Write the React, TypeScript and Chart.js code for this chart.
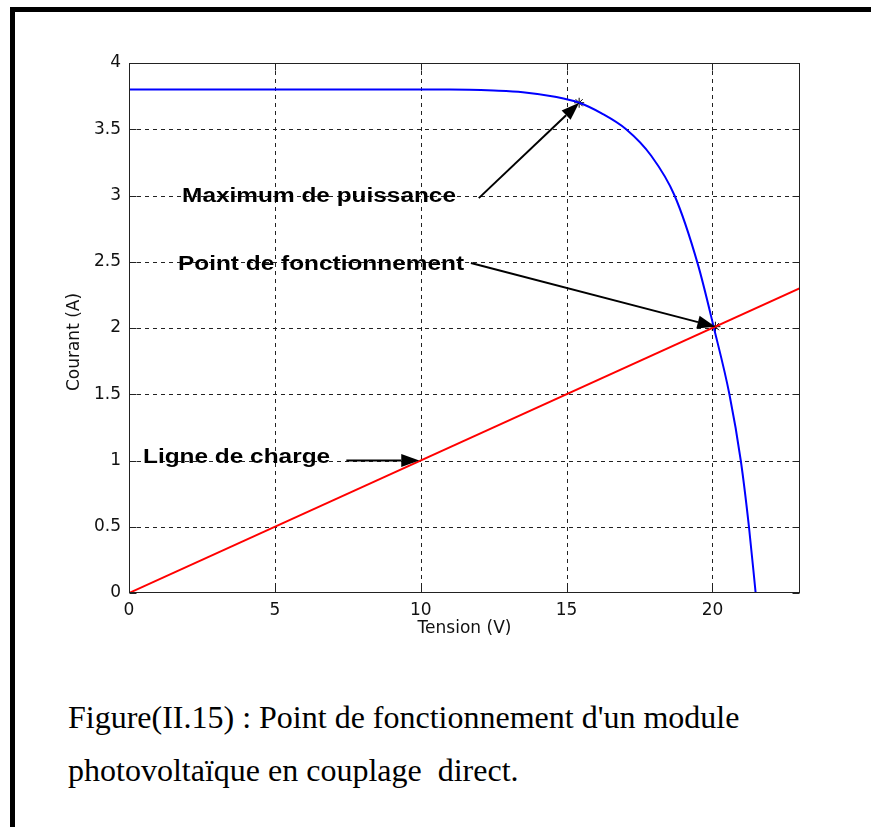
import { useEffect, useRef } from "react";
import { Chart, registerables } from "chart.js";

Chart.register(...registerables);

// Axes
const X_TICKS = [0, 5, 10, 15, 20];
const Y_TICKS = [0, 0.5, 1, 1.5, 2, 2.5, 3, 3.5, 4];
const TENSION_MAX = 23;
const COURANT_MAX = 4;
const Y_TITLE = "Courant (A)";

// Caractéristique courant-tension du module photovoltaïque
const PV_TENSION = [0, 5, 11, 12.5, 13.5, 14.6, 15.43, 16.2, 17.04, 17.9, 18.7, 19.5, 20.05, 20.58, 20.97, 21.25, 21.48];
const PV_COURANT = [3.8, 3.8, 3.8, 3.792, 3.78, 3.745, 3.7, 3.62, 3.5, 3.3, 3.0, 2.48, 2.0, 1.5, 1.0, 0.5, 0];

// Ligne de charge (charge résistive de 10 ohms)
const CHARGE_TENSION = [0, 23];
const CHARGE_COURANT = [0, 2.3];

// Points remarquables
const MPP = { v: 15.43, i: 3.7 };
const FONCTIONNEMENT = { v: 20.1, i: 2.01 };

// Annotations : texte, ancrage (V, A), flèche de -> vers
const NOTE_TEXTS = ["Maximum de puissance", "Point de fonctionnement", "Ligne de charge"];
const NOTE_V = [1.82, 1.68, 0.48];
const NOTE_I = [2.95, 2.44, 0.98];
const ARROW_FROM_V = [11.99, 11.72, 7.45];
const ARROW_FROM_I = [2.98, 2.49, 1.0];
const ARROW_TO_V = [MPP.v, FONCTIONNEMENT.v, 9.95];
const ARROW_TO_I = [MPP.i, FONCTIONNEMENT.i, 1.0];

const CAPTION_LINES = [
  "Figure(II.15) : Point de fonctionnement d'un module",
  "photovoltaïque en couplage  direct.",
];

const AXIS_FONT = "DejaVu Sans";
const INK = "#111";

function drawArrow(ctx: CanvasRenderingContext2D, x1: number, y1: number, x2: number, y2: number) {
  const ang = Math.atan2(y2 - y1, x2 - x1);
  const headLen = 18;
  const headHalf = 6.5;
  const bx = x2 - headLen * Math.cos(ang);
  const by = y2 - headLen * Math.sin(ang);
  ctx.beginPath();
  ctx.moveTo(x1, y1);
  ctx.lineTo(bx, by);
  ctx.stroke();
  ctx.beginPath();
  ctx.moveTo(x2, y2);
  ctx.lineTo(bx - headHalf * Math.sin(ang), by + headHalf * Math.cos(ang));
  ctx.lineTo(bx + headHalf * Math.sin(ang), by - headHalf * Math.cos(ang));
  ctx.closePath();
  ctx.fill();
}

const matlabAxes = {
  id: "matlabAxes",
  beforeDatasetsDraw(chart: any) {
    const { ctx, chartArea: a, scales } = chart;
    const x = scales.x;
    const y = scales.y;
    ctx.save();
    ctx.strokeStyle = "#222";
    ctx.lineWidth = 1;
    ctx.setLineDash([4, 4]);
    ctx.beginPath();
    for (const v of X_TICKS) {
      const px = Math.round(x.getPixelForValue(v)) + 0.5;
      if (px <= a.left + 1 || px >= a.right - 1) continue;
      ctx.moveTo(px, a.top);
      ctx.lineTo(px, a.bottom);
    }
    for (const v of Y_TICKS) {
      const py = Math.round(y.getPixelForValue(v)) + 0.5;
      if (py <= a.top + 1 || py >= a.bottom - 1) continue;
      ctx.moveTo(a.left, py);
      ctx.lineTo(a.right, py);
    }
    ctx.stroke();
    ctx.restore();
  },
  afterDatasetsDraw(chart: any) {
    const { ctx, chartArea: a, scales } = chart;
    const x = scales.x;
    const y = scales.y;
    const L = Math.round(a.left) + 0.5;
    const R = Math.round(a.right) - 0.5;
    const T = Math.round(a.top) + 0.5;
    const B = Math.round(a.bottom) - 0.5;
    ctx.save();
    // boîte et graduations intérieures
    ctx.strokeStyle = "#222";
    ctx.lineWidth = 1;
    ctx.setLineDash([]);
    ctx.strokeRect(L, T, R - L, B - T);
    const tick = 7;
    ctx.beginPath();
    for (const v of X_TICKS) {
      const px = Math.round(x.getPixelForValue(v)) + 0.5;
      ctx.moveTo(px, B);
      ctx.lineTo(px, B - tick);
      ctx.moveTo(px, T);
      ctx.lineTo(px, T + tick);
    }
    for (const v of Y_TICKS) {
      const py = Math.round(y.getPixelForValue(v)) + 0.5;
      ctx.moveTo(L, py);
      ctx.lineTo(L + tick, py);
      ctx.moveTo(R, py);
      ctx.lineTo(R - tick, py);
    }
    ctx.stroke();

    // titre de l'axe des courants, légèrement sous le milieu de l'axe
    ctx.save();
    ctx.fillStyle = INK;
    ctx.font = `17px '${AXIS_FONT}'`;
    ctx.textAlign = "center";
    ctx.textBaseline = "middle";
    ctx.translate(y.left + 10, (a.top + a.bottom) / 2 + 14);
    ctx.rotate(-Math.PI / 2);
    ctx.fillText(Y_TITLE, 0, 0);
    ctx.restore();

    // annotations
    ctx.fillStyle = "#000";
    ctx.strokeStyle = "#000";
    ctx.lineWidth = 2;
    ctx.font = "bold 20px 'Liberation Sans', Arial, sans-serif";
    ctx.textBaseline = "alphabetic";
    ctx.textAlign = "left";
    NOTE_TEXTS.forEach((t, k) => {
      const px = x.getPixelForValue(NOTE_V[k]);
      const py = y.getPixelForValue(NOTE_I[k]);
      ctx.save();
      ctx.translate(px, py);
      ctx.scale(1.22, 1);
      ctx.fillText(t, 0, 0);
      ctx.restore();
      drawArrow(
        ctx,
        x.getPixelForValue(ARROW_FROM_V[k]),
        y.getPixelForValue(ARROW_FROM_I[k]),
        x.getPixelForValue(ARROW_TO_V[k]),
        y.getPixelForValue(ARROW_TO_I[k])
      );
    });
    ctx.restore();
  },
};

export default function App() {
  const canvasRef = useRef<HTMLCanvasElement | null>(null);

  useEffect(() => {
    const canvas = canvasRef.current;
    if (!canvas) return;
    const chart = new Chart(canvas, {
      type: "line",
      data: {
        datasets: [
          {
            label: "Ligne de charge",
            data: CHARGE_TENSION.map((v, k) => ({ x: v, y: CHARGE_COURANT[k] })),
            borderColor: "#ff0000",
            borderWidth: 2,
            pointRadius: 0,
            tension: 0,
          },
          {
            label: "I(V)",
            data: PV_TENSION.map((v, k) => ({ x: v, y: PV_COURANT[k] })),
            borderColor: "#0000ff",
            borderWidth: 2,
            pointRadius: 0,
            cubicInterpolationMode: "monotone",
          },
          {
            label: "Points",
            data: [
              { x: MPP.v, y: MPP.i },
              { x: FONCTIONNEMENT.v, y: FONCTIONNEMENT.i },
            ],
            showLine: false,
            pointStyle: "star",
            pointRadius: 5,
            borderColor: "#000",
            borderWidth: 1,
          },
        ],
      },
      options: {
        animation: false,
        responsive: false,
        maintainAspectRatio: false,
        layout: { padding: { left: 65, top: 63, right: 71, bottom: 21 } },
        plugins: { legend: { display: false }, tooltip: { enabled: false } },
        scales: {
          x: {
            type: "linear",
            min: 0,
            max: TENSION_MAX,
            afterBuildTicks: (s: any) => {
              s.ticks = X_TICKS.map((v) => ({ value: v }));
            },
            afterFit: (s: any) => {
              s.height = 46;
            },
            grid: { display: false, drawTicks: false },
            border: { display: false },
            ticks: {
              padding: 7,
              color: INK,
              autoSkip: false,
              maxRotation: 0,
              font: { family: AXIS_FONT, size: 17 },
            },
            title: {
              display: true,
              text: "Tension (V)",
              color: INK,
              padding: 0,
              font: { family: AXIS_FONT, size: 17 },
            },
          },
          y: {
            type: "linear",
            min: 0,
            max: COURANT_MAX,
            afterBuildTicks: (s: any) => {
              s.ticks = Y_TICKS.map((v) => ({ value: v }));
            },
            afterFit: (s: any) => {
              s.width = 64;
            },
            grid: { display: false, drawTicks: false },
            border: { display: false },
            ticks: {
              padding: 8,
              color: INK,
              autoSkip: false,
              font: { family: AXIS_FONT, size: 17 },
              callback: (v: any) => String(v),
            },
            title: { display: false },
          },
        },
      },
      plugins: [matlabAxes],
    });
    return () => chart.destroy();
  }, []);

  return (
    <div
      style={{
        position: "absolute",
        left: 0,
        top: 0,
        width: 871,
        height: 827,
        background: "#fff",
        overflow: "hidden",
      }}
    >
      <canvas
        ref={canvasRef}
        width={871}
        height={660}
        style={{ position: "absolute", left: 0, top: 0, width: 871, height: 660 }}
      />
      {/* cadre */}
      <div style={{ position: "absolute", left: 10, top: 7, width: 861, height: 5, background: "#000" }} />
      <div style={{ position: "absolute", left: 10, top: 7, width: 5, height: 820, background: "#000" }} />
      {CAPTION_LINES.map((t, k) => (
        <div
          key={k}
          style={{
            position: "absolute",
            left: 68,
            top: 701 + k * 53,
            fontFamily: "'Liberation Serif', 'Times New Roman', serif",
            fontSize: 32,
            lineHeight: "32px",
            whiteSpace: "pre",
            color: "#000",
          }}
        >
          {t}
        </div>
      ))}
    </div>
  );
}
